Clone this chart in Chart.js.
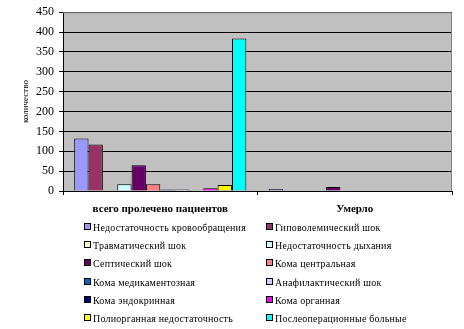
<!DOCTYPE html>
<html>
<head>
<meta charset="utf-8">
<script src="https://cdn.jsdelivr.net/npm/chart.js@4.4.1/dist/chart.umd.min.js"></script>
<style>
	body { margin: 0; background: #fff; }
	#wrap { position: relative; width: 464px; height: 329px; }
	#legend { position: absolute; left: 0; top: 0; font-family: "Liberation Serif", serif; font-size: 10px; color: #000; }
	.item { position: absolute; white-space: nowrap; line-height: 12px; letter-spacing: 0.2px; }
	.box { display: inline-block; width: 5px; height: 5px; border: 1px solid #000; margin-right: 2px; vertical-align: 1px; }
</style>
</head>
<body>
<div id="wrap">
	<canvas id="chart" width="464" height="329"></canvas>
	<div id="legend"></div>
</div>
<script>

var categories = ['всего пролечено пациентов', 'Умерло'];

var seriesNames = [
	'Недостаточность кровообращения', 'Гиповолемический шок',
	'Травматический шок', 'Недостаточность дыхания',
	'Септический шок', 'Кома центральная',
	'Кома медикаментозная', 'Анафилактический шок',
	'Кома эндокринная', 'Кома органная',
	'Полиорганная недостаточность', 'Послеоперационные больные'
];

var seriesColors = [
	'#9999FF', '#993366',
	'#FFFFCC', '#CCFFFF',
	'#660066', '#FF8080',
	'#0066CC', '#CCCCFF',
	'#000080', '#FF00FF',
	'#FFFF00', '#00FFFF'
];

// values per series: [treated, died]
var treated = [132, 117, 0, 17, 65, 17, 4, 4, 0, 7, 15, 384];
var died = [5, 0, 0, 0, 10, 0, 0, 0, 0, 0, 1, 0];

var yTicks = [0, 50, 100, 150, 200, 250, 300, 350, 400, 450];


var datasets = [];
for ( var i = 0; i < seriesNames.length; i++ ) {
	datasets.push({
		label: seriesNames[i],
		data: [treated[i] || null, died[i] || null],
		backgroundColor: seriesColors[i],
		borderColor: '#000000',
		borderWidth: 1,
		borderSkipped: 'bottom'
	});
}

// grey plot area with grey frame on top/right
var plotBg = {
	id: 'plotBg',
	beforeDraw: function(chart) {
		var a = chart.chartArea;
		var c = chart.ctx;
		c.save();
		c.fillStyle = '#C0C0C0';
		c.fillRect(a.left, a.top, a.right - a.left, a.bottom - a.top);
		c.restore();
	},
	afterDatasetsDraw: function(chart) {
		var a = chart.chartArea;
		var c = chart.ctx;
		c.save();
		c.strokeStyle = '#808080';
		c.lineWidth = 1;
		c.beginPath();
		c.moveTo(a.left, a.top + 0.5);
		c.lineTo(a.right - 0.5, a.top + 0.5);
		c.lineTo(a.right - 0.5, a.bottom);
		c.stroke();
		c.restore();
	}
};

var ctx = document.getElementById('chart');

var chart = new Chart(ctx, {
	type: 'bar',
	data: {
		labels: categories,
		datasets: datasets
	},
	plugins: [plotBg],
	options: {
		responsive: false,
		animation: false,
		layout: {
			padding: { top: 10, right: 12, bottom: 108, left: 20 }
		},
		datasets: {
			bar: { categoryPercentage: 0.885, barPercentage: 1.0 }
		},
		plugins: {
			legend: { display: false },
			tooltip: { enabled: false }
		},
		scales: {
			x: {
				offset: true,
				afterFit: function(scale) { scale.height = 30; },
				grid: {
					offset: true,
					drawOnChartArea: false,
					color: '#000000',
					tickLength: 4
				},
				border: { color: '#000000', width: 1 },
				ticks: {
					color: '#000000',
					padding: 8,
					font: { family: 'Liberation Serif', size: 11, weight: 'bold' }
				}
			},
			y: {
				min: 0,
				max: 450,
				afterFit: function(scale) { scale.width = 43; },
				afterBuildTicks: function(scale) {
					scale.ticks = yTicks.map(function(v) { return { value: v }; });
				},
				grid: {
					color: '#000000',
					lineWidth: 1,
					tickLength: 4
				},
				border: { color: '#000000', width: 1 },
				ticks: {
					color: '#000000',
					padding: 5,
					font: { family: 'Liberation Serif', size: 12 }
				},
				title: {
					display: true,
					text: 'количество',
					color: '#000000',
					padding: { top: 0, bottom: 4 },
					font: { family: 'Liberation Serif', size: 9 }
				}
			}
		}
	}
});


// legend in two columns, like the original
var legend = document.getElementById('legend');
var colX = [84, 266];
for ( var j = 0; j < seriesNames.length; j++ ) {
	var item = document.createElement('div');
	item.className = 'item';
	item.style.left = colX[j % 2] + 'px';
	item.style.top = (222 + Math.floor(j / 2) * 18.2) + 'px';
	item.innerHTML = '<span class="box" style="background:' + seriesColors[j] + '"></span>' + seriesNames[j];
	legend.appendChild(item);
}

</script>
</body>
</html>
